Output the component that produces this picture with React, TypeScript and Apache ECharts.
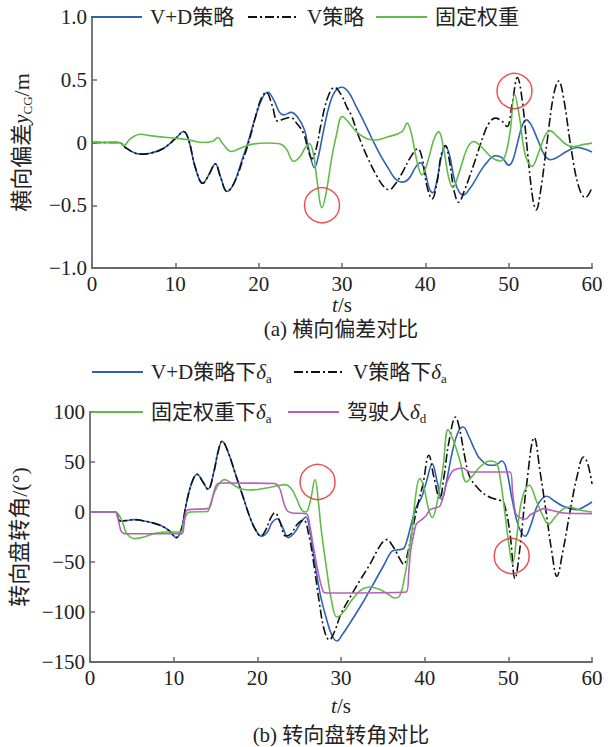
import React, { useEffect, useRef } from "react";
import * as echarts from "echarts";

// ---------- data (t in s) ----------
const xTicks = [0, 10, 20, 30, 40, 50, 60];

// (a) lateral deviation y_CG / m
const vdLateral: number[][] = [[0,0],[3.2,0],[4,-0.04],[5,-0.08],[5.8,-0.093],[7,-0.085],[8.5,-0.05],[10,0.03],[11,0.088],[11.6,0.02],[12.4,-0.2],[13.3,-0.325],[14.0,-0.26],[14.8,-0.17],[15.4,-0.27],[16.2,-0.39],[17,-0.33],[18,-0.14],[18.8,0.02],[19.6,0.2],[20.4,0.35],[21.1,0.4],[21.8,0.34],[22.5,0.24],[23,0.22],[23.9,0.24],[24.7,0.2],[25.5,0.1],[26,-0.05],[26.7,-0.2],[27.2,-0.1],[27.8,0.1],[28.5,0.3],[29.2,0.41],[30,0.44],[30.8,0.4],[31.6,0.3],[32.6,0.17],[33.6,0.03],[34.6,-0.1],[35.6,-0.21],[36.4,-0.29],[37.2,-0.316],[38,-0.29],[38.8,-0.2],[39.4,-0.16],[39.9,-0.22],[40.5,-0.37],[40.9,-0.4],[41.4,-0.3],[41.9,-0.12],[42.4,-0.03],[42.9,-0.1],[43.5,-0.3],[44.1,-0.4],[44.6,-0.417],[45.3,-0.37],[46,-0.3],[46.6,-0.23],[47.5,-0.15],[48.4,-0.105],[49.2,-0.12],[50,-0.18],[50.5,-0.14],[51,-0.02],[51.6,0.13],[52.1,0.18],[52.7,0.14],[53.5,0.02],[54.3,-0.1],[55,-0.138],[55.8,-0.12],[57,-0.07],[58.2,-0.04],[59,-0.05],[60,-0.075]];
const vLateral: number[][] = [[0,0],[3.2,0],[4,-0.04],[5,-0.08],[5.8,-0.093],[7,-0.085],[8.5,-0.05],[10,0.03],[11,0.088],[11.6,0.02],[12.4,-0.2],[13.3,-0.325],[14.0,-0.26],[14.8,-0.17],[15.4,-0.27],[16.2,-0.39],[17,-0.33],[18,-0.16],[18.8,0.0],[19.6,0.2],[20.3,0.35],[20.9,0.4],[21.6,0.3],[22.3,0.17],[23.1,0.19],[23.8,0.2],[24.6,0.15],[25.4,0.07],[25.9,-0.05],[26.4,-0.13],[26.9,-0.05],[27.5,0.15],[28.3,0.36],[29.1,0.44],[29.9,0.38],[30.6,0.28],[31.1,0.22],[32,0.05],[33.1,-0.125],[34.2,-0.27],[35,-0.35],[35.65,-0.377],[36.4,-0.33],[37.2,-0.245],[38.2,-0.12],[39.1,-0.05],[39.6,-0.12],[40.2,-0.35],[40.8,-0.45],[41.4,-0.32],[41.9,-0.1],[42.4,-0.024],[42.9,-0.15],[43.5,-0.4],[44,-0.476],[44.7,-0.38],[45.8,-0.178],[47,0.06],[47.7,0.16],[48.4,0.194],[49.2,0.17],[49.8,0.127],[50.4,0.3],[51.05,0.518],[51.6,0.35],[52.3,-0.1],[52.9,-0.45],[53.3,-0.537],[53.8,-0.4],[54.6,0.0],[55.4,0.38],[56,0.49],[56.6,0.35],[57.5,-0.05],[58.4,-0.35],[59.2,-0.44],[60,-0.36]];
const fixLateral: number[][] = [[0,0],[3.3,0],[3.8,-0.025],[4.6,0.03],[5.8,0.066],[7,0.055],[9,0.04],[11,0.027],[12,0.015],[13.2,0],[14.5,0.01],[15.1,0.04],[15.7,-0.01],[16.7,-0.072],[18,-0.04],[19.3,-0.013],[21,-0.004],[22.5,-0.01],[23.3,-0.05],[24.2,-0.15],[25,-0.11],[25.6,-0.04],[26.1,-0.01],[26.6,-0.1],[27,-0.3],[27.6,-0.52],[28.1,-0.4],[28.7,-0.15],[29.3,0.05],[30.05,0.207],[30.8,0.16],[31.8,0.08],[33,0.03],[34,0.02],[35.5,0.045],[37.2,0.087],[37.8,0.154],[38.3,0.08],[39,-0.15],[39.6,-0.258],[40.3,-0.15],[41,0.02],[41.6,0.087],[42.2,-0.05],[42.8,-0.28],[43.3,-0.36],[44,-0.25],[45,-0.05],[45.8,0.008],[46.8,-0.04],[48,-0.12],[49,-0.147],[49.6,-0.1],[50.2,0.1],[50.7,0.385],[51.3,0.2],[52,-0.1],[52.8,-0.19],[53.6,-0.08],[54.4,0.06],[55,0.093],[55.8,0.05],[57,-0.02],[57.8,-0.032],[59,-0.015],[60,-0.005]];
const circlesA: number[][] = [[27.6, -0.5], [50.7, 0.41]];

// (b) steering wheel angle / (°)
const vdSteer: number[][] = [[0,0],[3,0],[3.6,-9],[4.5,-8.5],[5.2,-7.6],[6.5,-9],[8.4,-13.3],[9.5,-19],[10.3,-25.6],[10.9,-18],[11.55,10],[12.2,30],[12.8,37.7],[13.5,30],[14.1,22.7],[14.8,40],[15.3,60],[15.8,70.7],[16.5,60],[17.5,35],[18.3,15],[19.1,-5],[19.8,-18],[20.5,-24.3],[21.2,-20],[21.8,-10],[22.4,-6.7],[23,-15],[23.7,-25.6],[24.5,-20],[25.1,-11.7],[25.8,-5],[26.3,-20],[26.7,-41.6],[27.5,-81.6],[28.3,-108],[28.9,-123],[29.5,-129],[30.2,-122],[31,-112],[32.5,-92],[34,-70],[35.2,-52],[36,-40],[36.6,-38],[37.4,-37],[37.9,-28],[38.4,-12],[39,5],[39.6,14],[40.2,30],[40.9,48.3],[41.5,30],[42.05,12.3],[42.6,30],[43.3,60],[44,80],[44.6,85],[45.3,75],[46,62],[46.6,53.4],[47.8,46.7],[48.5,47],[49.2,51],[49.7,45],[50.4,15],[50.9,-5],[51.4,-18],[52,-24.3],[52.6,-15],[53.4,5],[54,13],[54.6,15.7],[55.5,11],[56.5,6],[57.4,3.4],[58.2,2.4],[59,5],[60,10]];
const vSteer: number[][] = [[0,0],[3,0],[3.6,-9],[4.5,-8.5],[5.2,-7.6],[6.5,-9],[8.4,-13.3],[9.5,-19],[10.3,-25.6],[10.9,-18],[11.55,10],[12.2,30],[12.8,37.7],[13.5,30],[14.1,22.7],[14.8,40],[15.3,60],[15.8,70.7],[16.5,60],[17.5,35],[18.3,15],[19.1,-5],[19.8,-18],[20.4,-24],[21,-18],[21.6,-6],[22.1,-0.7],[22.7,-10],[23.4,-24],[24,-22],[24.8,-12],[25.5,-8],[26.2,-25],[26.8,-55],[27.4,-90],[28,-118],[28.6,-128],[29.2,-120],[30,-102],[31.1,-85],[32.3,-68],[33.5,-51.6],[34.5,-36],[35.1,-29],[35.5,-27.6],[36.1,-33],[36.6,-40],[37.1,-48],[37.5,-52.3],[38,-40],[38.6,-15],[39.2,8],[39.8,28],[40.5,56.7],[41.1,35],[41.8,13.4],[42.3,35],[42.9,70],[43.7,95],[44.2,82],[44.8,55],[45.4,35],[46.6,21.7],[47.5,16],[48.2,13.4],[49,11.7],[49.5,8],[50.2,-21.6],[50.8,-66.6],[51.4,-35],[52.2,28.4],[53.1,74.4],[53.8,40],[54.6,-5],[55.2,-40],[55.8,-64.3],[56.5,-40],[57.4,1.7],[58.2,35],[59,55],[59.5,48],[60,28]];
const fixSteer: number[][] = [[0,0],[3,0],[3.8,-8.3],[4.4,-21.6],[5.4,-26.6],[6.5,-25],[7.6,-21.6],[9,-20],[10.8,-20],[11.2,-10],[11.6,-1.7],[12,0],[14,0.5],[14.4,8],[14.8,18],[15.4,28],[16.1,32.4],[17,28],[17.9,23.4],[19,22],[21.1,24],[22.5,26.5],[23.3,27.4],[24,24],[24.6,15],[25.3,2],[25.8,0],[26.3,10],[26.9,32.4],[27.3,10],[27.6,-15],[28.3,-58.3],[28.9,-90],[29.5,-105],[30.3,-100],[31.3,-88],[32.4,-78],[33.4,-75],[34.5,-77],[35.6,-82],[36.4,-86],[37,-84],[37.6,-65],[38.1,-40],[38.5,-18],[38.9,15],[39.4,33.4],[39.9,25],[40.4,5],[40.9,-5.6],[41.5,10],[42.2,45],[42.8,82.4],[43.5,70],[44.2,51.7],[45,30],[45.8,37],[46.6,45],[47.8,51],[48.6,48.4],[49,35],[49.4,11.7],[50,-28.3],[50.5,-51.6],[51,-25],[51.6,11.7],[52.5,26.7],[53.4,10],[54.2,-5],[54.8,-12.3],[55.6,-5],[56.6,3.4],[57.4,5],[58.5,2],[60,0]];
const driverSteer: number[][] = [[0,0],[3,0],[3.3,-5],[3.7,-19],[4.2,-21.7],[11,-21.7],[11.2,-15],[11.45,0],[11.8,2.4],[14,3.4],[14.4,6],[14.8,20],[15.2,28],[16,29],[22.1,28.5],[22.7,23],[23.2,8],[23.6,1],[24.2,-1],[25.9,-2],[26.3,-15],[26.7,-35],[27.3,-61.6],[27.9,-80],[28.5,-81],[37.8,-80],[38.1,-60],[38.3,-40],[38.7,-22],[39,-12],[39.8,-6.6],[40.2,-3.3],[40.6,2],[41,3.4],[41.8,5.7],[42.2,15],[42.6,28.4],[43.1,38],[43.5,42],[44.6,44],[45.1,41],[45.5,40],[50.2,40],[50.5,20],[50.9,-2],[51.6,-6.6],[52.1,-7],[52.6,-3],[53.5,1],[54.2,3.4],[55.5,1],[56.6,-1],[60,-1.6]];
const circlesB: number[][] = [[27.2, 30], [50.4, -44]];

// ---------- style ----------
const FONT = "'Liberation Serif', 'Times New Roman', 'Noto Sans CJK SC', serif";
const BLUE = "#2f62b5";
const BLACK = "#111111";
const GREEN = "#62bb47";
const PURPLE = "#b560bd";
const RED = "#e8262a";
const AXIS = "#6a6a6a";
const DASHDOT = [9, 3, 2, 3];

const rich = {
  i: { fontStyle: "italic", fontFamily: FONT, fontSize: 21, color: "#222" },
  s: { fontSize: 13, fontFamily: FONT, verticalAlign: "bottom", lineHeight: 13, color: "#222" },
};
const xNameRich = {
  i: { fontStyle: "italic", fontFamily: FONT, fontSize: 21, color: "#222", lineHeight: 16 },
};

const legendLabels: Record<string, string> = {
  "V+D策略下δa": "V+D策略下{i|δ}{s|a}",
  "V策略下δa": "V策略下{i|δ}{s|a}",
  "固定权重下δa": "固定权重下{i|δ}{s|a}",
  "驾驶人δd": "驾驶人{i|δ}{s|d}",
};

const minus = (s: string) => s.replace("-", "\u2212");

export default function App() {
  const ref = useRef<HTMLDivElement>(null);
  useEffect(() => {
    if (!ref.current) return;
    const chart = echarts.init(ref.current, null, { renderer: "svg" });
    const legendBase = {
      padding: 0,
      itemWidth: 51,
      itemHeight: 14,
      itemStyle: { opacity: 0 },
      textStyle: {
        fontFamily: FONT,
        fontSize: 21,
        color: "#222",
        lineHeight: 26,
        padding: [0, 0, 0, 3],
        rich,
      },
      formatter: (n: string) => legendLabels[n] || n,
      selectedMode: false,
    };
    const axisCommon = {
      axisLine: { show: true, onZero: false, lineStyle: { color: AXIS, width: 1.8 } },
      axisTick: { show: true, inside: true, length: 5, lineStyle: { color: AXIS, width: 1.5 } },
      splitLine: { show: false },
    };
    const xAxisFor = (gi: number, gap: number) => ({
      type: "value",
      gridIndex: gi,
      min: xTicks[0],
      max: xTicks[xTicks.length - 1],
      interval: 10,
      ...axisCommon,
      axisLabel: { fontFamily: FONT, fontSize: 21, color: "#222", margin: 5 },
      name: "{i|t}/s",
      nameLocation: "middle",
      nameGap: gap,
      nameTextStyle: { fontFamily: FONT, fontSize: 21, color: "#222", rich: xNameRich, lineHeight: 16 },
    });
    const lineSeries = (name: string, data: number[][], color: string, gi: number, dash = false, smooth: number | boolean = 0.4) => ({
      type: "line",
      name,
      data,
      xAxisIndex: gi,
      yAxisIndex: gi,
      symbol: "none",
      smooth,
      lineStyle: { color, width: 1.6, type: dash ? DASHDOT : "solid" },
      itemStyle: { color },
      z: 3,
    });
    const circleSeries = (data: number[][], gi: number) => ({
      type: "scatter",
      name: "circles" + gi,
      data,
      xAxisIndex: gi,
      yAxisIndex: gi,
      symbol: "circle",
      symbolSize: 35,
      silent: true,
      itemStyle: { color: "rgba(0,0,0,0)", borderColor: RED, borderWidth: 1.5 },
      z: 5,
    });
    const captionStyle = { fontFamily: FONT, fontSize: 21, fontWeight: "normal", color: "#222", lineHeight: 20 };
    chart.setOption({
      animation: false,
      backgroundColor: "#ffffff",
      textStyle: { fontFamily: FONT },
      grid: [
        { left: 90, right: 21, top: 17, height: 251 },
        { left: 90, right: 21, top: 412, height: 250 },
      ],
      title: [
        { text: "(a) 横向偏差对比", left: 341, top: 319, padding: 0, textAlign: "center", textStyle: captionStyle },
        { text: "(b) 转向盘转角对比", left: 341, top: 725, padding: 0, textAlign: "center", textStyle: captionStyle },
      ],
      legend: [
        { ...legendBase, data: ["V+D策略"], left: 90, top: 4 },
        { ...legendBase, data: ["V策略"], left: 247, top: 4 },
        { ...legendBase, data: ["固定权重"], left: 375, top: 4 },
        { ...legendBase, data: ["V+D策略下δa"], left: 91, top: 359 },
        { ...legendBase, data: ["V策略下δa"], left: 293, top: 359 },
        { ...legendBase, data: ["固定权重下δa"], left: 91, top: 399 },
        { ...legendBase, data: ["驾驶人δd"], left: 287, top: 399 },
      ],
      xAxis: [xAxisFor(0, 28), xAxisFor(1, 36)],
      yAxis: [
        {
          type: "value",
          gridIndex: 0,
          min: -1,
          max: 1,
          interval: 0.5,
          ...axisCommon,
          axisLabel: {
            fontFamily: FONT, fontSize: 21, color: "#222", margin: 5,
            formatter: (v: number) => (v === 0 ? "0" : minus(v.toFixed(1))),
          },
          name: "横向偏差{i|y}{s|CG}/m",
          nameLocation: "middle",
          nameGap: 58,
          nameTextStyle: { fontFamily: FONT, fontSize: 22, color: "#222", rich, lineHeight: 26 },
        },
        {
          type: "value",
          gridIndex: 1,
          min: -150,
          max: 100,
          interval: 50,
          ...axisCommon,
          axisLabel: {
            fontFamily: FONT, fontSize: 21, color: "#222", margin: 5,
            formatter: (v: number) => minus(String(v)),
          },
          name: "转向盘转角/(°)",
          nameLocation: "middle",
          nameGap: 58,
          nameTextStyle: { fontFamily: FONT, fontSize: 22, color: "#222" },
        },
      ],
      series: [
        lineSeries("V+D策略", vdLateral, BLUE, 0),
        lineSeries("V策略", vLateral, BLACK, 0, true),
        lineSeries("固定权重", fixLateral, GREEN, 0),
        circleSeries(circlesA, 0),
        lineSeries("V+D策略下δa", vdSteer, BLUE, 1),
        lineSeries("V策略下δa", vSteer, BLACK, 1, true),
        lineSeries("固定权重下δa", fixSteer, GREEN, 1),
        lineSeries("驾驶人δd", driverSteer, PURPLE, 1, false, 0.25),
        circleSeries(circlesB, 1),
      ],
    });
    return () => chart.dispose();
  }, []);
  return <div ref={ref} style={{ position: "fixed", left: 0, top: 0, width: 613, height: 747 }} />;
}
